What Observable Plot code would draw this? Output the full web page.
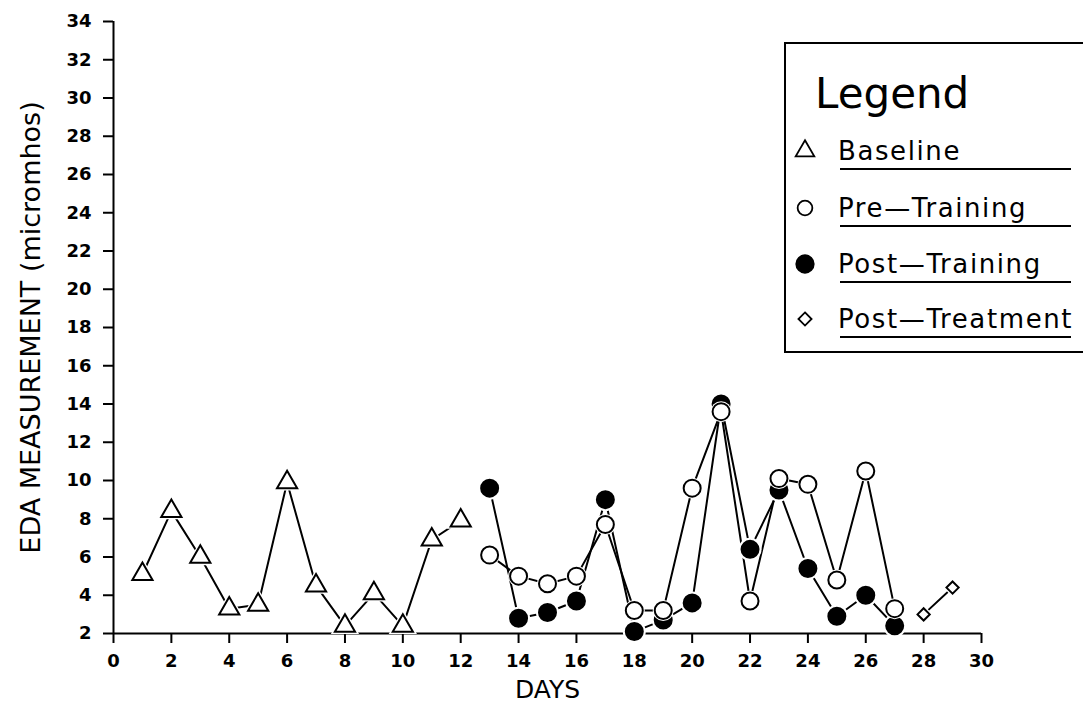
<!DOCTYPE html>
<html>
<head>
<meta charset="utf-8">
<script src="https://cdn.jsdelivr.net/npm/d3@7"></script>
<script src="https://cdn.jsdelivr.net/npm/@observablehq/plot@0.6"></script>
<style>
  html, body { margin: 0; padding: 0; background: #fff; }
  #wrap { position: relative; width: 1083px; height: 707px; }
  #wrap svg { position: absolute; left: 0; top: 0; }
</style>
</head>
<body>
<div id="wrap"></div>
<script>
// ---- data ----
const baselineDays = [1, 2, 3, 4, 5, 6, 7, 8, 9, 10, 11, 12];
const baselineValues = [5.1, 8.4, 6.0, 3.3, 3.5, 9.9, 4.5, 2.4, 4.1, 2.4, 6.9, 7.9];

const preTrainingDays = [13, 14, 15, 16, 17, 18, 19, 20, 21, 22, 23, 24, 25, 26, 27];
const preTrainingValues = [6.1, 5.0, 4.6, 5.0, 7.7, 3.2, 3.2, 9.6, 13.6, 3.7, 10.1, 9.8, 4.8, 10.5, 3.3];

const postTrainingDays = [13, 14, 15, 16, 17, 18, 19, 20, 21, 22, 23, 24, 25, 26, 27];
const postTrainingValues = [9.6, 2.8, 3.1, 3.7, 9.0, 2.1, 2.7, 3.6, 14.0, 6.4, 9.5, 5.4, 2.9, 4.0, 2.4];

const postTreatmentDays = [28, 29];
const postTreatmentValues = [3.0, 4.4];

const xTicks = d3.range(0, 31, 2);
const yTicks = d3.range(2, 35, 2);

const seriesNames = ["Baseline", "Pre—Training", "Post—Training", "Post—Treatment"];

const rows = (days, vals, s) => days.map((d, i) => ({ day: d, value: vals[i], series: s }));
const baseline = rows(baselineDays, baselineValues, seriesNames[0]);
const pre = rows(preTrainingDays, preTrainingValues, seriesNames[1]);
const post = rows(postTrainingDays, postTrainingValues, seriesNames[2]);
const treat = rows(postTreatmentDays, postTreatmentValues, seriesNames[3]);

const font = "DejaVu Sans, Liberation Sans, sans-serif";

function markersFor(data, opts, halo) {
  return [
    Plot.dot(data, { x: "day", y: "value", symbol: opts.symbol, r: opts.r + halo, fill: "white", stroke: "none" }),
    Plot.dot(data, { x: "day", y: "value", symbol: opts.symbol, r: opts.r, fill: opts.fill, stroke: "black", strokeWidth: 2 })
  ];
}

const chart = Plot.plot({
  width: 1083,
  height: 707,
  marginLeft: 113,
  marginRight: 102,
  marginTop: 21,
  marginBottom: 74,
  style: { fontFamily: font, background: "white", color: "black" },
  x: { domain: [0, 30] },
  y: { domain: [2, 34] },
  marks: [
    Plot.axisY({ ticks: yTicks, tickSize: 10, tickPadding: 12, strokeWidth: 2,
      label: "EDA MEASUREMENT (micromhos)", labelAnchor: "center", labelArrow: "none", labelOffset: 93 }),
    Plot.axisX({ ticks: xTicks, tickSize: 10, tickPadding: 11, strokeWidth: 2,
      label: "DAYS", labelAnchor: "center", labelArrow: "none", labelOffset: 64 }),
    Plot.ruleX([0], { stroke: "black", strokeWidth: 2 }),
    Plot.ruleY([2], { stroke: "black", strokeWidth: 2 }),
    Plot.line(baseline, { x: "day", y: "value", stroke: "black", strokeWidth: 2 }),
    Plot.line(post, { x: "day", y: "value", stroke: "black", strokeWidth: 2 }),
    Plot.line(pre, { x: "day", y: "value", stroke: "black", strokeWidth: 2 }),
    Plot.line(treat, { x: "day", y: "value", stroke: "black", strokeWidth: 2 }),
    ...markersFor(baseline, { symbol: "triangle", r: 7.5, fill: "white" }, 3),
    ...markersFor(post, { symbol: "circle", r: 8.5, fill: "black" }, 3),
    ...markersFor(pre, { symbol: "circle", r: 8.5, fill: "white" }, 2),
    ...markersFor(treat, { symbol: "diamond2", r: 5.5, fill: "white" }, 3)
  ]
});

// restyle axis texts directly
d3.select(chart).selectAll("text").each(function () {
  const t = this;
  let a = "";
  let p = t.parentNode;
  while (p && p !== chart) {
    const v = p.getAttribute && p.getAttribute("aria-label");
    if (v) { a = v; break; }
    p = p.parentNode;
  }
  if (/tick label/.test(a)) {
    t.style.fontSize = "18px";
    t.style.fontWeight = "bold";
  } else if (/y-axis label/.test(a)) {
    t.style.fontSize = "27px";
    t.style.fontWeight = "normal";
  } else if (/x-axis label/.test(a)) {
    t.style.fontSize = "25px";
    t.style.fontWeight = "normal";
  }
});

const wrap = document.getElementById("wrap");
wrap.appendChild(chart);

// ---- legend overlay ----
const leg = d3.select(wrap).append("svg")
  .attr("width", 1083).attr("height", 707)
  .style("pointer-events", "none")
  .attr("font-family", font);

leg.append("rect")
  .attr("x", 785).attr("y", 43).attr("width", 310).attr("height", 309)
  .attr("fill", "white").attr("stroke", "black").attr("stroke-width", 2);

leg.append("text").attr("x", 815).attr("y", 108)
  .attr("font-size", 42).text("Legend");

const legendSymbols = [
  { type: d3.symbolTriangle, size: 150, fill: "white" },
  { type: d3.symbolCircle, size: 170, fill: "white" },
  { type: d3.symbolCircle, size: 240, fill: "black" },
  { type: d3.symbolDiamond2, size: 110, fill: "white" }
];
const baselines = [160, 217, 273, 328];
seriesNames.forEach((name, i) => {
  const by = baselines[i];
  const s = legendSymbols[i];
  leg.append("path")
    .attr("d", d3.symbol(s.type, s.size)())
    .attr("transform", `translate(805,${by - 9})`)
    .attr("fill", s.fill).attr("stroke", "black").attr("stroke-width", 1.8);
  leg.append("text").attr("x", 838).attr("y", by)
    .attr("font-size", 26).attr("letter-spacing", 1.6).text(name);
  leg.append("line")
    .attr("x1", 840).attr("x2", 1071).attr("y1", by + 9).attr("y2", by + 9)
    .attr("stroke", "black").attr("stroke-width", 2);
});
</script>
</body>
</html>
